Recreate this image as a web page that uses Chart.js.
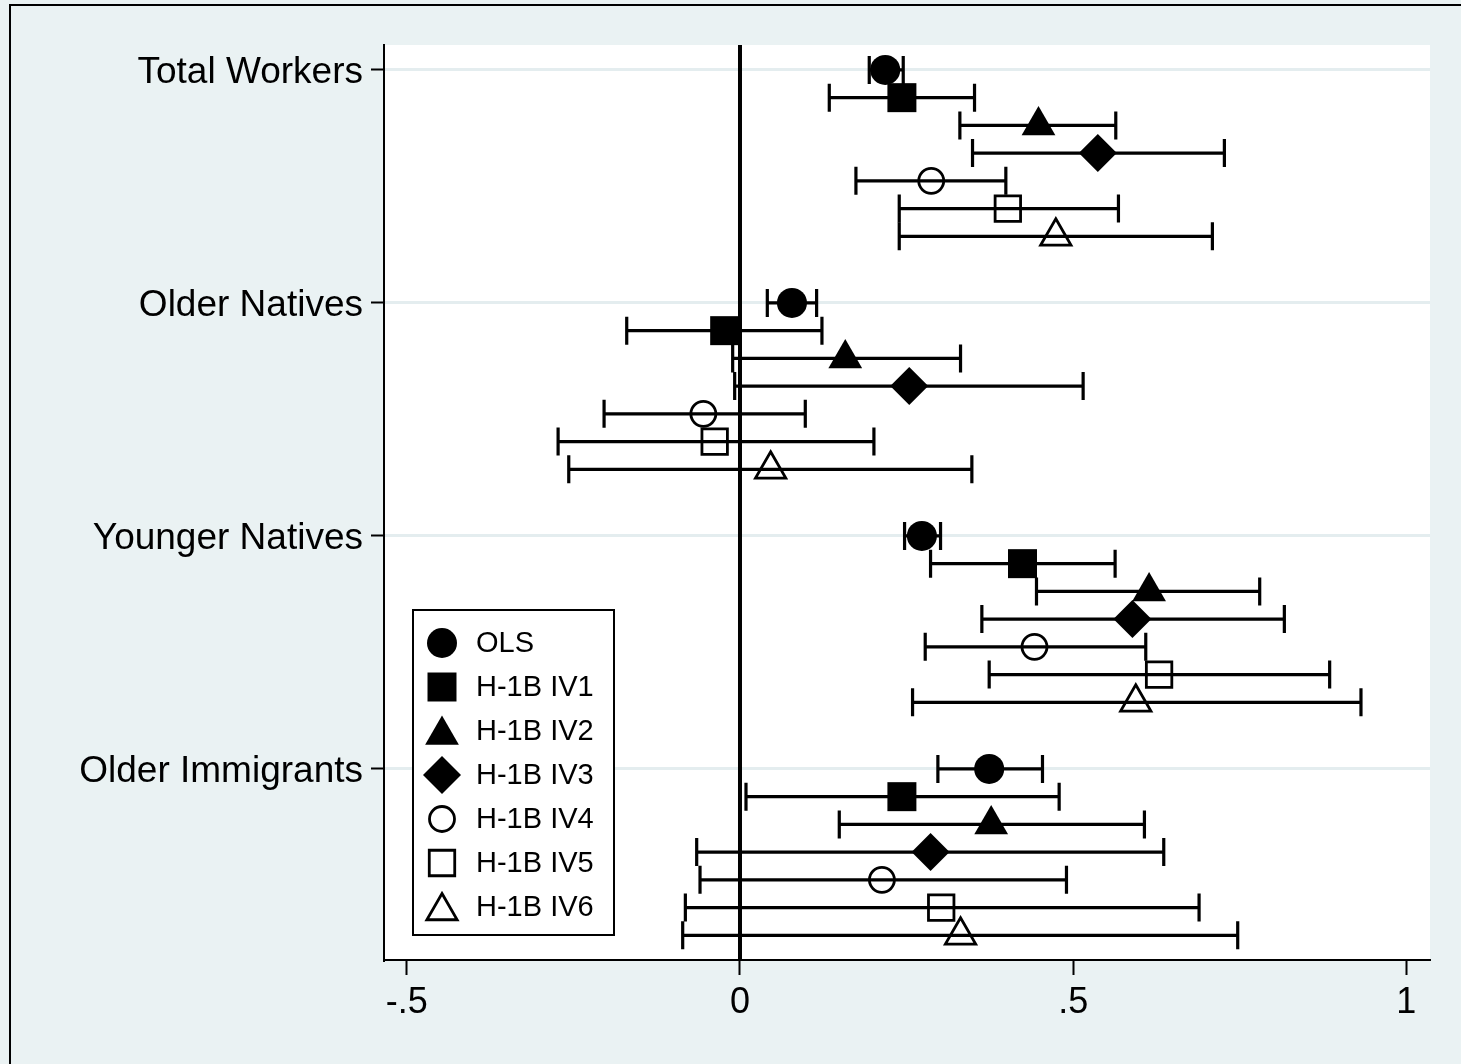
<!DOCTYPE html>
<html>
<head>
<meta charset="utf-8">
<script src="https://cdn.jsdelivr.net/npm/chart.js@4/dist/chart.umd.min.js"></script>
<style>
  html, body { margin: 0; padding: 0; background: #EAF2F3; }
  canvas { display: block; }
</style>
</head>
<body>
<canvas id="coefplot" width="1461" height="1064"></canvas>
<script>
// Categories (top to bottom) and the estimator series
const categories = ['Total Workers', 'Older Natives', 'Younger Natives', 'Older Immigrants'];
const seriesNames = ['OLS', 'H-1B IV1', 'H-1B IV2', 'H-1B IV3', 'H-1B IV4', 'H-1B IV5', 'H-1B IV6'];

// Point estimates, one row per series, one value per category
const pointEst = [
    [0.218, 0.078, 0.273, 0.374],
    [0.243, -0.023, 0.424, 0.243],
    [0.448, 0.158, 0.614, 0.377],
    [0.537, 0.254, 0.589, 0.286],
    [0.287, -0.055, 0.442, 0.213],
    [0.402, -0.038, 0.629, 0.302],
    [0.474, 0.046, 0.594, 0.331]
];

// Confidence interval bounds
const ciLow = [
    [0.194, 0.041, 0.247, 0.297],
    [0.134, -0.170, 0.286, 0.009],
    [0.330, -0.011, 0.445, 0.149],
    [0.349, -0.008, 0.363, -0.065],
    [0.174, -0.204, 0.278, -0.060],
    [0.239, -0.273, 0.374, -0.082],
    [0.239, -0.257, 0.259, -0.086]
];
const ciHigh = [
    [0.245, 0.115, 0.301, 0.454],
    [0.352, 0.123, 0.563, 0.479],
    [0.564, 0.331, 0.780, 0.607],
    [0.727, 0.515, 0.817, 0.636],
    [0.399, 0.098, 0.609, 0.490],
    [0.568, 0.201, 0.885, 0.689],
    [0.709, 0.348, 0.932, 0.747]
];

// x axis ticks
const xTicks = [-0.5, 0, 0.5, 1];
const xTickLabels = ['-.5', '0', '.5', '1'];

// Marker look for each series
const markerStyles = [
    { pointStyle: 'circle', radius: 15, fill: true },
    { pointStyle: 'rect', radius: 20.5, fill: true },
    { pointStyle: 'triangle', radius: 19.5, fill: true },
    { pointStyle: 'rectRot', radius: 19, fill: true },
    { pointStyle: 'circle', radius: 12.5, fill: false },
    { pointStyle: 'rect', radius: 18, fill: false },
    { pointStyle: 'triangle', radius: 17.5, fill: false }
];

const seriesOffset = 0.119;
const fontFamily = '"Liberation Sans", Arial, Helvetica, sans-serif';

// Build scatter datasets
const datasets = seriesNames.map(function(name, j) {
    const m = markerStyles[j];
    return {
        type: 'scatter',
        label: name,
        data: pointEst[j].map(function(v, i) {
            return { x: v, y: i + j * seriesOffset };
        }),
        pointStyle: m.pointStyle,
        pointRadius: m.radius,
        pointHoverRadius: m.radius,
        pointBackgroundColor: m.fill ? '#000' : 'rgba(0,0,0,0)',
        pointBorderColor: '#000',
        pointBorderWidth: m.fill ? 0 : 2.8,
        order: 1
    };
});

// Vertical reference line at zero
datasets.push({
    type: 'line',
    label: 'zero',
    data: [{ x: 0, y: -0.107 }, { x: 0, y: 3.82 }],
    borderColor: '#000',
    borderWidth: 4,
    pointRadius: 0,
    order: 2
});

// Background, plot region and outer frame
const framePlugin = {
    id: 'frame',
    beforeDraw: function(chart) {
        const ctx = chart.ctx;
        const a = chart.chartArea;
        ctx.save();
        ctx.fillStyle = '#EAF2F3';
        ctx.fillRect(0, 0, chart.width, chart.height);
        ctx.fillStyle = '#FFFFFF';
        ctx.fillRect(a.left, a.top, a.right - a.left, a.bottom - a.top);
        ctx.strokeStyle = '#000';
        ctx.lineWidth = 2;
        ctx.strokeRect(10, 5, chart.width + 20, chart.height + 20);
        ctx.restore();
    }
};

// Horizontal confidence interval bars with caps
const errorBarPlugin = {
    id: 'errorBars',
    beforeDatasetsDraw: function(chart) {
        const ctx = chart.ctx;
        const xs = chart.scales.x;
        const ys = chart.scales.y;
        ctx.save();
        ctx.strokeStyle = '#000';
        ctx.lineWidth = 3.2;
        ctx.lineCap = 'butt';
        for (let j = 0; j < seriesNames.length; j++) {
            for (let i = 0; i < categories.length; i++) {
                const y = ys.getPixelForValue(i + j * seriesOffset);
                const x1 = xs.getPixelForValue(ciLow[j][i]);
                const x2 = xs.getPixelForValue(ciHigh[j][i]);
                ctx.beginPath();
                ctx.moveTo(x1, y);
                ctx.lineTo(x2, y);
                ctx.moveTo(x1, y - 14);
                ctx.lineTo(x1, y + 14);
                ctx.moveTo(x2, y - 14);
                ctx.lineTo(x2, y + 14);
                ctx.stroke();
            }
        }
        ctx.restore();
    }
};

// Legend box inside the plot, lower left
const legendPlugin = {
    id: 'insideLegend',
    afterDatasetsDraw: function(chart) {
        const ctx = chart.ctx;
        const boxX = 413, boxY = 610, boxW = 201, boxH = 325;
        ctx.save();
        ctx.fillStyle = '#FFFFFF';
        ctx.fillRect(boxX, boxY, boxW, boxH);
        ctx.strokeStyle = '#000';
        ctx.lineWidth = 2;
        ctx.strokeRect(boxX, boxY, boxW, boxH);
        ctx.font = '29px ' + fontFamily;
        ctx.textBaseline = 'middle';
        ctx.textAlign = 'left';
        seriesNames.forEach(function(name, j) {
            const m = markerStyles[j];
            const cy = 643 + j * 44;
            ctx.fillStyle = m.fill ? '#000' : 'rgba(0,0,0,0)';
            ctx.strokeStyle = '#000';
            ctx.lineWidth = m.fill ? 0 : 2.8;
            Chart.helpers.drawPoint(ctx, {
                pointStyle: m.pointStyle,
                radius: m.radius,
                rotation: 0,
                borderWidth: m.fill ? 0 : 2.8
            }, 442, m.pointStyle === 'triangle' ? cy + 4 : cy);
            ctx.fillStyle = '#000';
            ctx.fillText(name, 476, cy + 1);
        });
        ctx.restore();
    }
};

document.addEventListener('DOMContentLoaded', function() {
    const ctx = document.getElementById('coefplot').getContext('2d');
    new Chart(ctx, {
        data: { datasets: datasets },
        options: {
            responsive: false,
            animation: false,
            devicePixelRatio: 1,
            layout: { padding: { top: 45, right: 31, left: 0, bottom: 0 } },
            plugins: {
                legend: { display: false },
                tooltip: { enabled: false }
            },
            scales: {
                x: {
                    type: 'linear',
                    position: 'bottom',
                    min: -0.5343,
                    max: 1.0356,
                    afterBuildTicks: function(scale) {
                        scale.ticks = xTicks.map(function(v) { return { value: v }; });
                    },
                    afterFit: function(scale) { scale.height = 104; },
                    border: { color: '#000', width: 2 },
                    grid: {
                        drawOnChartArea: false,
                        drawTicks: true,
                        tickLength: 15,
                        tickColor: '#000',
                        tickWidth: 2
                    },
                    ticks: {
                        color: '#000',
                        padding: 6,
                        maxRotation: 0,
                        font: { family: fontFamily, size: 36 },
                        callback: function(value) {
                            const k = xTicks.indexOf(value);
                            return k >= 0 ? xTickLabels[k] : '';
                        }
                    }
                },
                y: {
                    type: 'linear',
                    reverse: true,
                    min: -0.107,
                    max: 3.82,
                    afterBuildTicks: function(scale) {
                        scale.ticks = categories.map(function(c, i) { return { value: i }; });
                    },
                    afterFit: function(scale) { scale.width = 384; },
                    border: { color: '#000', width: 2 },
                    grid: {
                        color: '#E4EDEF',
                        lineWidth: 3,
                        drawTicks: true,
                        tickLength: 13,
                        tickColor: '#000',
                        tickWidth: 2
                    },
                    ticks: {
                        color: '#000',
                        padding: 8,
                        labelOffset: 3,
                        font: { family: fontFamily, size: 37 },
                        callback: function(value) {
                            return categories[value] || '';
                        }
                    }
                }
            }
        },
        plugins: [framePlugin, errorBarPlugin, legendPlugin]
    });
});
</script>
</body>
</html>
